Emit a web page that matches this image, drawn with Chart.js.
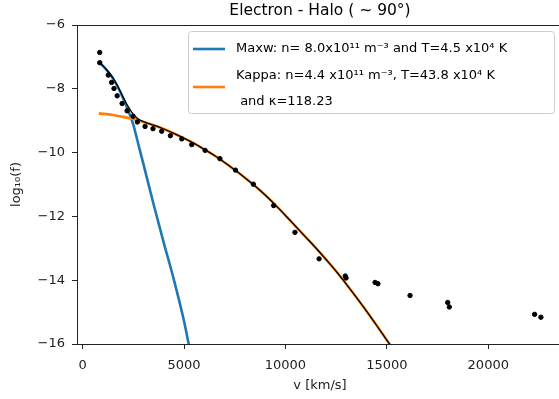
<!DOCTYPE html>
<html>
<head>
<meta charset="utf-8">
<script src="https://cdn.jsdelivr.net/npm/chart.js@4"></script>
<style>
  html, body { margin: 0; padding: 0; overflow: hidden; background: #fff; }
  #wrap { width: 568px; height: 399px; }
</style>
</head>
<body>
<div id="wrap"><canvas id="chart-1"></canvas></div>
<script>
// Data

const dataV = [845, 845, 1266, 1430, 1549, 1706, 1950, 2195, 2495, 2700, 3080, 3470, 3900, 4330, 4890, 5380,
  6040, 6770, 7540, 8420, 9420, 10470, 11660, 12950, 12990, 14420, 14560, 16144, 18000, 18080, 22283, 22595];
const dataF = [-6.86, -7.18, -7.57, -7.80, -7.99, -8.22, -8.46, -8.69, -8.86, -9.04, -9.18, -9.25, -9.33, -9.47, -9.57, -9.75,
  -9.93, -10.19, -10.55, -10.99, -11.66, -12.50, -13.33, -13.87, -13.93, -14.07, -14.11, -14.48, -14.70, -14.84, -15.07, -15.16];

const maxwV = [800, 1000, 1250, 1500, 1750, 2000, 2250, 2500, 2750, 3000, 3500, 4000, 4500, 5000, 5250];
const maxwF = [-7.16, -7.28, -7.46, -7.68, -7.96, -8.30, -8.68, -9.12, -9.74, -10.36, -11.62, -12.82, -13.98, -15.28, -16.06];

const kappaV = [800, 1500, 2000, 2500, 3000, 3500, 4000, 4500, 5000, 5500, 6000, 6500, 7000, 7500, 8000,
  8500, 9000, 9500, 10000, 10500, 11000, 11500, 12000, 12500, 13000, 13500, 14000, 14500, 15000, 15300];
const kappaF = [-8.77, -8.82, -8.88, -8.95, -9.04, -9.14, -9.26, -9.40, -9.55, -9.71, -9.90, -10.09, -10.31, -10.54, -10.79,
  -11.05, -11.33, -11.64, -11.97, -12.31, -12.65, -12.99, -13.35, -13.72, -14.12, -14.54, -14.97, -15.42, -15.88, -16.15];

const fitV = [800, 1000, 1250, 1500, 1750, 2000, 2250, 2500, 2750, 3000, 3250, 3500, 4000, 4500, 5000, 5500, 6000,
  6500, 7000, 7500, 8000, 8500, 9000, 9500, 10000, 10500, 11000, 11500, 12000, 12500, 13000, 13500, 14000, 14500, 15000, 15300];
const fitF = [-7.17, -7.28, -7.45, -7.66, -7.94, -8.26, -8.56, -8.80, -8.95, -9.03, -9.09, -9.14, -9.26, -9.40, -9.55, -9.71, -9.90,
  -10.09, -10.31, -10.54, -10.79, -11.05, -11.33, -11.64, -11.97, -12.31, -12.65, -12.99, -13.35, -13.72, -14.12, -14.54, -14.97, -15.42, -15.88, -16.15];

const xTicks = [0, 5000, 10000, 15000, 20000];
const yTicks = [-16, -14, -12, -10, -8, -6];

const titleText = "Electron - Halo ( \u223C 90\u00B0)";
const maxwLabel = "Maxw: n= 8.0x10\u00B9\u00B9 m\u207B\u00B3 and T=4.5 x10\u2074 K";
const kappaLabel = "Kappa: n=4.4 x10\u00B9\u00B9 m\u207B\u00B3, T=43.8 x10\u2074 K\n and \u03BA=118.23";

const pts = (xs, ys) => xs.map((x, i) => ({ x: x, y: ys[i] }));
const minus = (v) => String(v).replace("-", "\u2212");
const FONT = "'DejaVu Sans', sans-serif";

// title, top spine and legend drawn by hand
const extras = {
  id: "extras",
  afterDraw(chart) {
    const c = chart.ctx;
    const a = chart.chartArea;
    c.save();
    c.strokeStyle = "#222";
    c.lineWidth = 1;
    c.beginPath();
    c.moveTo(a.left, a.top + 0.5);
    c.lineTo(a.right, a.top + 0.5);
    c.stroke();

    c.fillStyle = "#000";
    c.font = "15.5px " + FONT;
    c.textAlign = "center";
    c.textBaseline = "middle";
    c.fillText(titleText, (a.left + a.right) / 2, 11);

    // legend
    c.fillStyle = "rgba(255,255,255,0.8)";
    c.strokeStyle = "#cccccc";
    c.beginPath();
    c.roundRect(188.5, 31.5, 366, 82, 3);
    c.fill();
    c.stroke();
    const items = [chart.data.datasets[2], chart.data.datasets[1]];
    const lineY = [49, 87];
    const textY = [[49], [76, 101.5]];
    c.font = "13px " + FONT;
    c.textAlign = "left";
    items.forEach((ds, i) => {
      c.strokeStyle = ds.borderColor;
      c.lineWidth = 2.6;
      c.beginPath();
      c.moveTo(193, lineY[i]);
      c.lineTo(225, lineY[i]);
      c.stroke();
      c.fillStyle = "#000";
      ds.label.split("\n").forEach((t, j) => c.fillText(t, 236, textY[i][j]));
    });
    c.restore();
  },
};

const ctx1 = document.getElementById("chart-1").getContext("2d");
const myChart = new Chart(ctx1, {
  type: "scatter",
  data: {
    datasets: [
      {
        label: "data",
        data: pts(dataV, dataF),
        backgroundColor: "#000",
        borderColor: "#000",
        pointRadius: 2.2,
        showLine: false,
        order: 0,
      },
      {
        label: kappaLabel,
        data: pts(kappaV, kappaF),
        borderColor: "#ff7f0e",
        borderWidth: 2.6,
        pointRadius: 0,
        showLine: true,
        cubicInterpolationMode: "monotone",
        order: 2,
      },
      {
        label: maxwLabel,
        data: pts(maxwV, maxwF),
        borderColor: "#1f77b4",
        borderWidth: 2.6,
        pointRadius: 0,
        showLine: true,
        cubicInterpolationMode: "monotone",
        order: 3,
      },
      {
        label: "fit",
        data: pts(fitV, fitF),
        borderColor: "#000",
        borderWidth: 1.3,
        pointRadius: 0,
        showLine: true,
        cubicInterpolationMode: "monotone",
        order: 1,
      },
    ],
  },
  options: {
    responsive: true,
    maintainAspectRatio: false,
    animation: false,
    layout: { padding: { top: 25, right: 1, left: 0, bottom: 0 } },
    plugins: {
      legend: { display: false },
      tooltip: { enabled: false },
    },
    scales: {
      x: {
        type: "linear",
        min: -275,
        max: 23684,
        afterFit: (s) => { s.height = 55; },
        afterBuildTicks: (s) => { s.ticks = xTicks.map((v) => ({ value: v })); },
        grid: { drawOnChartArea: false, drawTicks: true, tickLength: 5, color: "#222" },
        border: { display: true, color: "#222", width: 1 },
        ticks: { color: "#222", font: { family: FONT, size: 13 }, padding: 9, maxRotation: 0, callback: (v) => String(v) },
        title: { display: true, text: "v [km/s]", color: "#222", font: { family: FONT, size: 13 }, padding: { top: 0, bottom: 6 } },
      },
      y: {
        min: -16,
        max: -6,
        afterFit: (s) => { s.width = 77; },
        afterBuildTicks: (s) => { s.ticks = yTicks.map((v) => ({ value: v })); },
        grid: { drawOnChartArea: false, drawTicks: true, tickLength: 5, color: "#222" },
        border: { display: true, color: "#222", width: 1 },
        ticks: { color: "#222", font: { family: FONT, size: 13 }, padding: 7, callback: (v) => minus(v) },
        title: { display: true, text: "log\u2081\u2080(f)", color: "#222", font: { family: FONT, size: 13 }, padding: { top: 9, bottom: 0 } },
      },
    },
  },
  plugins: [extras],
});
</script>
</body>
</html>
